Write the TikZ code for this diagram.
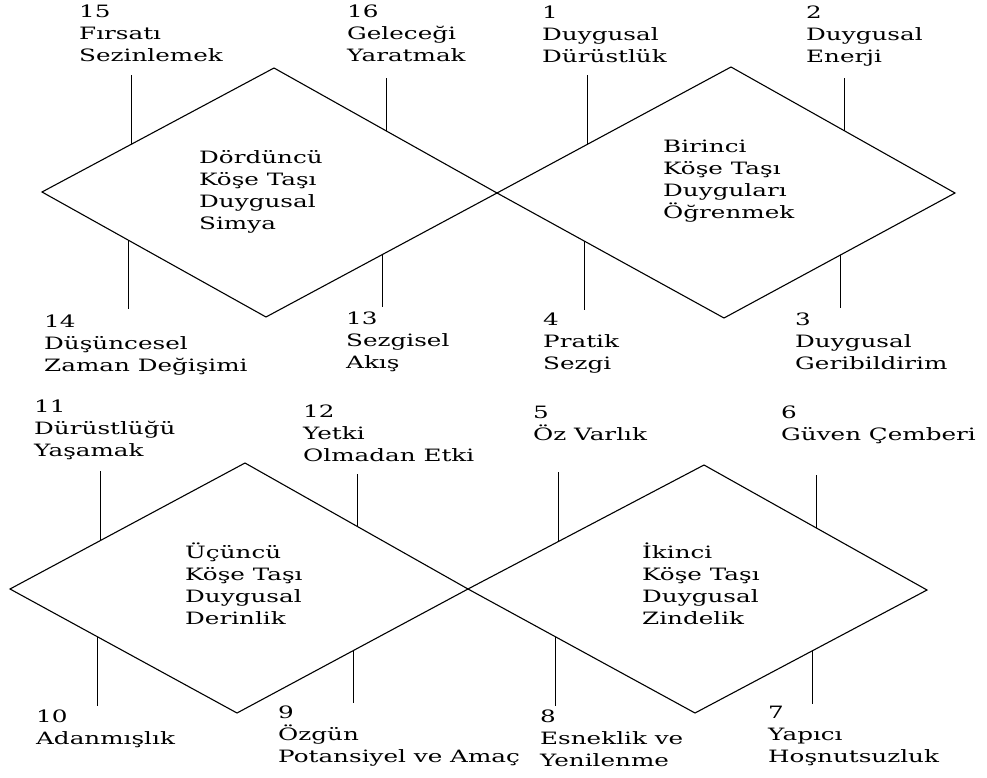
\documentclass[tikz,border=0pt]{standalone}
\usepackage{fontspec}
\setmainfont{DejaVu Serif}[FakeStretch=1.45]
\usetikzlibrary{calc}

\begin{document}
\begin{tikzpicture}[x=1pt,y=-1pt]
			\tikzstyle{every node}+=[inner sep=0pt,font=\fontsize{17}{22}\selectfont]
			\tikzstyle{lbl}=[anchor=base west,align=left]
			\tikzstyle{stone}=[black,line width=1.1pt]
			\useasboundingbox (0,0) rectangle (987,778);
			% corners of the four stones
			\coordinate (d4n) at (274,68);
			\coordinate (d4w) at (42,192);
			\coordinate (d4e) at (497,193);
			\coordinate (d4s) at (266,317);
			\coordinate (d1n) at (731,67);
			\coordinate (d1w) at (d4e);
			\coordinate (d1e) at (955,193);
			\coordinate (d1s) at (724,318);
			\coordinate (d3n) at (245,463);
			\coordinate (d3w) at (10,589);
			\coordinate (d3e) at (468,589);
			\coordinate (d3s) at (237,713);
			\coordinate (d2n) at (704,465);
			\coordinate (d2w) at (d3e);
			\coordinate (d2e) at (927,590);
			\coordinate (d2s) at (695,713);
			\foreach \d in {d1,d2,d3,d4} {
				\draw [stone] (\d n) -- (\d e) -- (\d s) -- (\d w) -- cycle;
				\draw [stone] ($(\d w)!.385!(\d n)$) -- ++(0,-69);
				\draw [stone] ($(\d n)!.505!(\d e)$) -- ++(0,-53);
				\draw [stone] ($(\d w)!.385!(\d s)$) -- ++(0,69);
				\draw [stone] ($(\d s)!.505!(\d e)$) -- ++(0,53);
			}
			% stone names (anchored at the last line)
			\node [lbl] (s4) at (199,229) {Dördüncü\\Köşe Taşı\\Duygusal\\Simya};
			\node [lbl] (s1) at (663,218) {Birinci\\Köşe Taşı\\Duyguları\\Öğrenmek};
			\node [lbl] (s3) at (185,624) {Üçüncü\\Köşe Taşı\\Duygusal\\Derinlik};
			\node [lbl] (s2) at (642,624) {İkinci\\Köşe Taşı\\Duygusal\\Zindelik};
			% numbered labels
			\node [lbl] (l15) at (79,62) {15\\Fırsatı\\Sezinlemek};
			\node [lbl] (l16) at (347,62) {16\\Geleceği\\Yaratmak};
			\node [lbl] (l14) at (44,371) {14\\Düşüncesel\\Zaman Değişimi};
			\node [lbl] (l13) at (346,368) {13\\Sezgisel\\Akış};
			\node [lbl] (l1) at (542,63) {1\\Duygusal\\Dürüstlük};
			\node [lbl] (l2) at (806,63) {2\\Duygusal\\Enerji};
			\node [lbl] (l4) at (543,369) {4\\Pratik\\Sezgi};
			\node [lbl] (l3) at (795,369) {3\\Duygusal\\Geribildirim};
			\node [lbl] (l11) at (34,456) {11\\Dürüstlüğü\\Yaşamak};
			\node [lbl] (l12) at (303,461) {12\\Yetki\\Olmadan Etki};
			\node [lbl] (l10) at (36,744) {10\\Adanmışlık};
			\node [lbl] (l9) at (278,762) {9\\Özgün\\Potansiyel ve Amaç};
			\node [lbl] (l5) at (533,440) {5\\Öz Varlık};
			\node [lbl] (l6) at (781,440) {6\\Güven Çemberi};
			\node [lbl] (l8) at (540,766) {8\\Esneklik ve\\Yenilenme};
			\node [lbl] (l7) at (768,762) {7\\Yapıcı\\Hoşnutsuzluk};
		\end{tikzpicture}
\end{document}
